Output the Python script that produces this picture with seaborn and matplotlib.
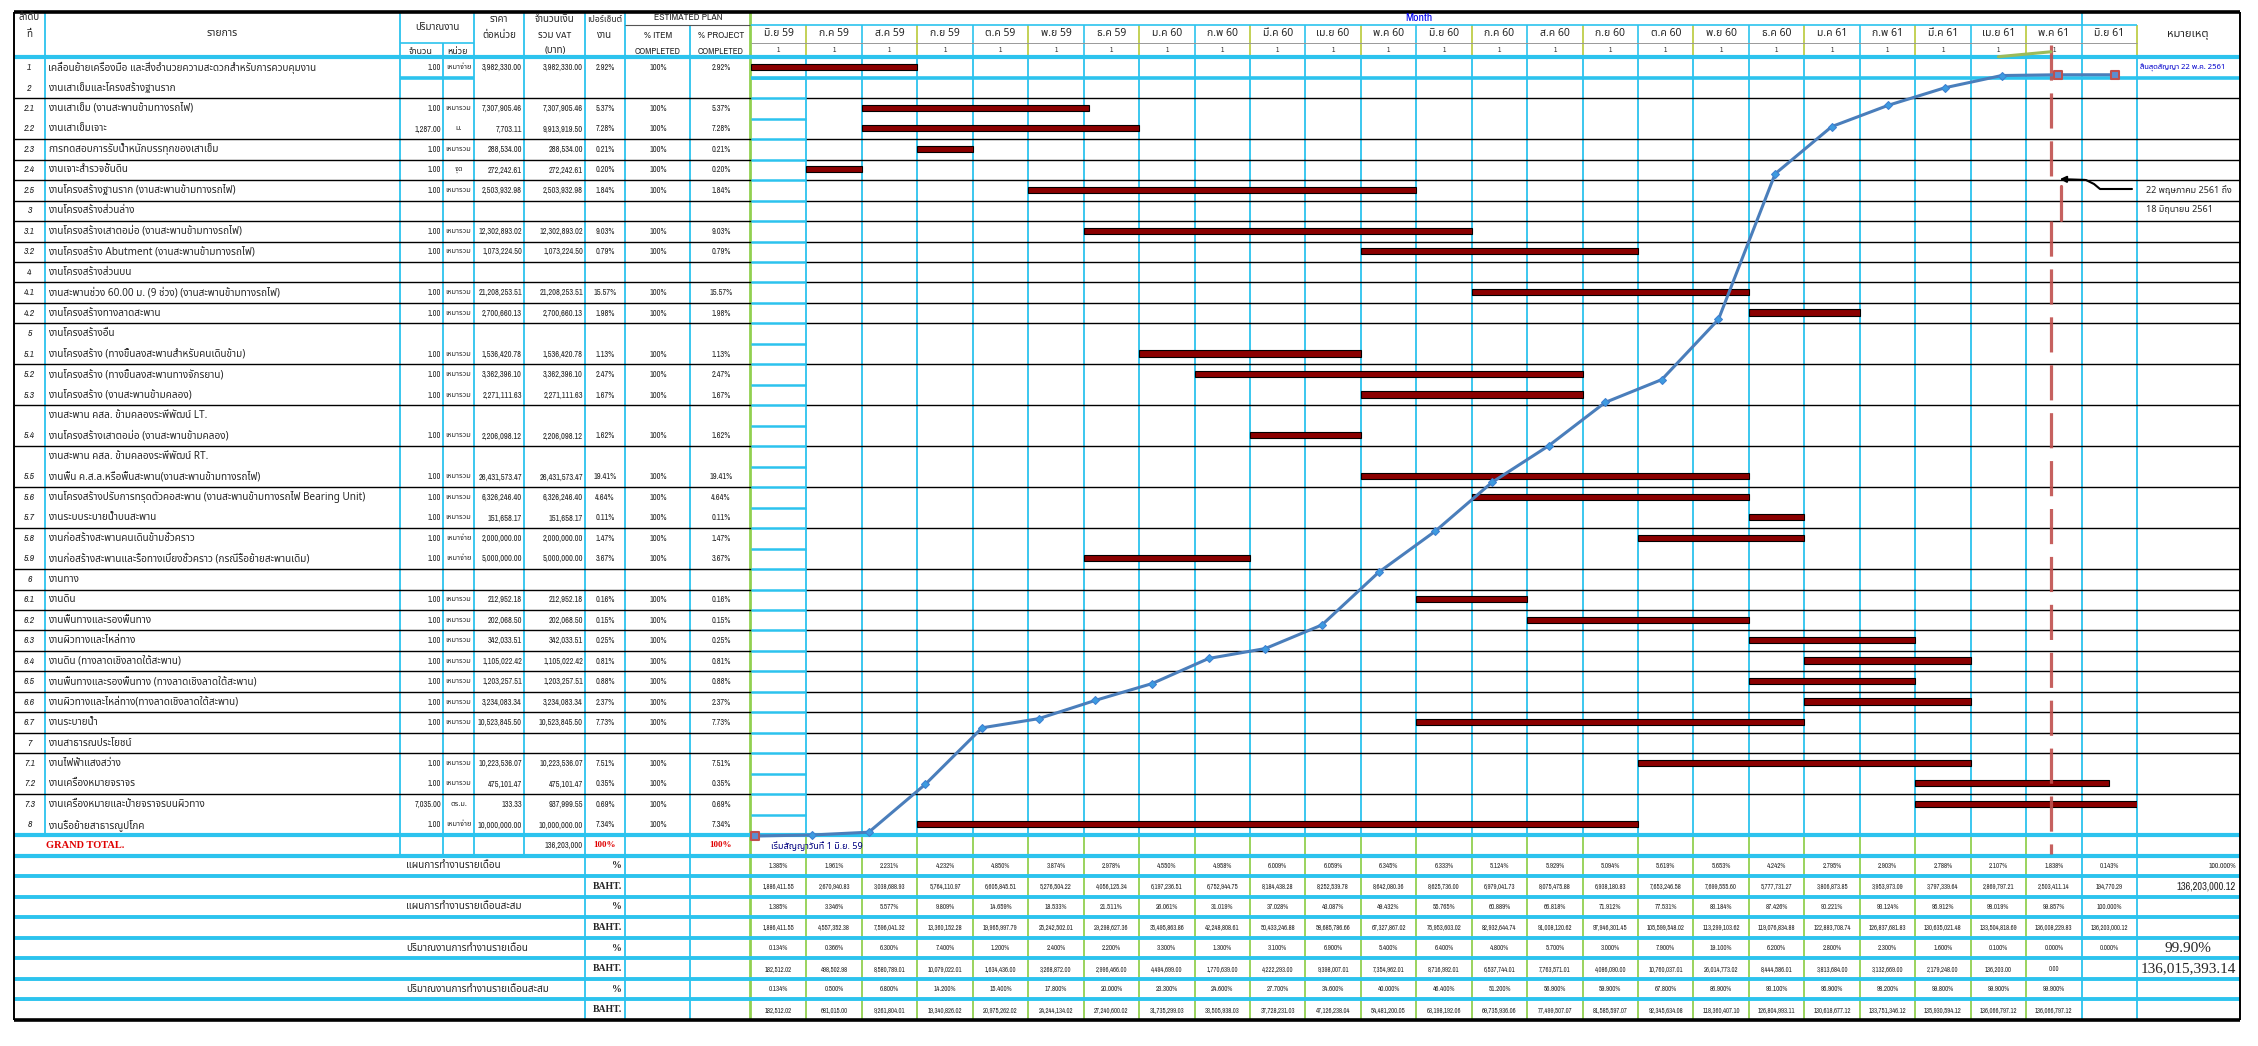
import matplotlib
matplotlib.use("Agg")
import matplotlib.pyplot as plt
import seaborn as sns
import numpy as np

# ---------------------------------------------------------------- data
MONTHS = ["มิ.ย 59", "ก.ค 59", "ส.ค 59", "ก.ย 59", "ต.ค 59", "พ.ย 59", "ธ.ค 59",
          "ม.ค 60", "ก.พ 60", "มี.ค 60", "เม.ย 60", "พ.ค 60", "มิ.ย 60", "ก.ค 60",
          "ส.ค 60", "ก.ย 60", "ต.ค 60", "พ.ย 60", "ธ.ค 60", "ม.ค 61", "ก.พ 61",
          "มี.ค 61", "เม.ย 61", "พ.ค 61", "มิ.ย 61"]

ROW_NO = ["1", "2", "2.1", "2.2", "2.3", "2.4", "2.5", "3", "3.1", "3.2", "4", "4.1", "4.2",
          "5", "5.1", "5.2", "5.3", "", "5.4", "", "5.5", "5.6", "5.7", "5.8", "5.9",
          "6", "6.1", "6.2", "6.3", "6.4", "6.5", "6.6", "6.7", "7", "7.1", "7.2", "7.3", "8"]

ROW_NAME = [
    "เคลื่อนย้ายเครื่องมือ และสิ่งอำนวยความสะดวกสำหรับการควบคุมงาน",
    "งานเสาเข็มและโครงสร้างฐานราก",
    "งานเสาเข็ม (งานสะพานข้ามทางรถไฟ)",
    "งานเสาเข็มเจาะ",
    "การทดสอบการรับน้ำหนักบรรทุกของเสาเข็ม",
    "งานเจาะสำรวจชั้นดิน",
    "งานโครงสร้างฐานราก (งานสะพานข้ามทางรถไฟ)",
    "งานโครงสร้างส่วนล่าง",
    "งานโครงสร้างเสาตอม่อ (งานสะพานข้ามทางรถไฟ)",
    "งานโครงสร้าง Abutment (งานสะพานข้ามทางรถไฟ)",
    "งานโครงสร้างส่วนบน",
    "งานสะพานช่วง 60.00 ม. (9 ช่วง) (งานสะพานข้ามทางรถไฟ)",
    "งานโครงสร้างทางลาดสะพาน",
    "งานโครงสร้างอื่น",
    "งานโครงสร้าง (ทางขึ้นลงสะพานสำหรับคนเดินข้าม)",
    "งานโครงสร้าง (ทางขึ้นลงสะพานทางจักรยาน)",
    "งานโครงสร้าง (งานสะพานข้ามคลอง)",
    "งานสะพาน คสล. ข้ามคลองระพีพัฒน์ LT.",
    "งานโครงสร้างเสาตอม่อ (งานสะพานข้ามคลอง)",
    "งานสะพาน คสล. ข้ามคลองระพีพัฒน์ RT.",
    "งานพื้น ค.ส.ล.หรือพื้นสะพาน(งานสะพานข้ามทางรถไฟ)",
    "งานโครงสร้างปรับการทรุดตัวคอสะพาน (งานสะพานข้ามทางรถไฟ Bearing Unit)",
    "งานระบบระบายน้ำบนสะพาน",
    "งานก่อสร้างสะพานคนเดินข้ามชั่วคราว",
    "งานก่อสร้างสะพานและรื้อทางเบี่ยงชั่วคราว (กรณีรื้อย้ายสะพานเดิม)",
    "งานทาง",
    "งานดิน",
    "งานพื้นทางและรองพื้นทาง",
    "งานผิวทางและไหล่ทาง",
    "งานดิน (ทางลาดเชิงลาดใต้สะพาน)",
    "งานพื้นทางและรองพื้นทาง (ทางลาดเชิงลาดใต้สะพาน)",
    "งานผิวทางและไหล่ทาง(ทางลาดเชิงลาดใต้สะพาน)",
    "งานระบายน้ำ",
    "งานสาธารณประโยชน์",
    "งานไฟฟ้าแสงสว่าง",
    "งานเครื่องหมายจราจร",
    "งานเครื่องหมายและป้ายจราจรบนผิวทาง",
    "งานรื้อย้ายสาธารณูปโภค",
]

QTY = ["1.00", "", "1.00", "1,287.00", "1.00", "1.00", "1.00", "", "1.00", "1.00", "", "1.00", "1.00",
       "", "1.00", "1.00", "1.00", "", "1.00", "", "1.00", "1.00", "1.00", "1.00", "1.00",
       "", "1.00", "1.00", "1.00", "1.00", "1.00", "1.00", "1.00", "", "1.00", "1.00", "7,035.00", "1.00"]

UNIT = ["เหมาจ่าย", "", "เหมารวม", "ม.", "เหมารวม", "จุด", "เหมารวม", "", "เหมารวม", "เหมารวม", "",
        "เหมารวม", "เหมารวม", "", "เหมารวม", "เหมารวม", "เหมารวม", "", "เหมารวม", "", "เหมารวม",
        "เหมารวม", "เหมารวม", "เหมาจ่าย", "เหมาจ่าย", "", "เหมารวม", "เหมารวม", "เหมารวม", "เหมารวม",
        "เหมารวม", "เหมารวม", "เหมารวม", "", "เหมารวม", "เหมารวม", "ตร.ม.", "เหมาจ่าย"]

PRICE = ["3,982,330.00", "", "7,307,905.46", "7,703.11", "288,534.00", "272,242.61", "2,503,932.98", "",
         "12,302,893.02", "1,073,224.50", "", "21,208,253.51", "2,700,660.13", "", "1,536,420.78",
         "3,362,396.10", "2,271,111.63", "", "2,206,098.12", "", "26,431,573.47", "6,326,246.40",
         "151,658.17", "2,000,000.00", "5,000,000.00", "", "212,952.18", "202,068.50", "342,033.51",
         "1,105,022.42", "1,203,257.51", "3,234,083.34", "10,523,845.50", "", "10,223,536.07",
         "475,101.47", "133.33", "10,000,000.00"]

TOTAL = ["3,982,330.00", "", "7,307,905.46", "9,913,919.50", "288,534.00", "272,242.61", "2,503,932.98", "",
         "12,302,893.02", "1,073,224.50", "", "21,208,253.51", "2,700,660.13", "", "1,536,420.78",
         "3,362,396.10", "2,271,111.63", "", "2,206,098.12", "", "26,431,573.47", "6,326,246.40",
         "151,658.17", "2,000,000.00", "5,000,000.00", "", "212,952.18", "202,068.50", "342,033.51",
         "1,105,022.42", "1,203,257.51", "3,234,083.34", "10,523,845.50", "", "10,223,536.07",
         "475,101.47", "937,999.55", "10,000,000.00"]

WEIGHT = ["2.92%", "", "5.37%", "7.28%", "0.21%", "0.20%", "1.84%", "", "9.03%", "0.79%", "", "15.57%",
          "1.98%", "", "1.13%", "2.47%", "1.67%", "", "1.62%", "", "19.41%", "4.64%", "0.11%", "1.47%",
          "3.67%", "", "0.16%", "0.15%", "0.25%", "0.81%", "0.88%", "2.37%", "7.73%", "", "7.51%",
          "0.35%", "0.69%", "7.34%"]

# Gantt bars: row index, start month, end month (month 0 = มิ.ย 59)
BAR_ROW = [0, 2, 3, 4, 5, 6, 8, 9, 11, 12, 14, 15, 16, 18, 20, 21, 22, 23, 24,
           26, 27, 28, 29, 30, 31, 32, 34, 35, 36, 37]
BAR_START = [0, 2, 2, 3, 1, 5, 6, 11, 13, 18, 7, 8, 11, 9, 11, 13, 18, 16, 6,
             12, 14, 18, 19, 18, 19, 12, 16, 21, 21, 3]
BAR_END = [3, 6.1, 7, 4, 2, 12, 13, 16, 18, 20, 11, 15, 15, 11, 18, 18, 19, 19, 9,
           14, 18, 21, 22, 21, 22, 19, 22, 24.5, 25.2, 16]

GRAND_TOTAL = 136203000.12
ACTUAL_TOTAL_TEXT = "136,015,393.14"

PLAN_MONTHLY = [1.385, 1.961, 2.231, 4.232, 4.850, 3.874, 2.978, 4.550, 4.958, 6.009, 6.059, 6.345,
                6.333, 5.124, 5.929, 5.094, 5.619, 5.653, 4.242, 2.795, 2.903, 2.788, 2.107, 1.838, 0.143]
PLAN_CUM = [1.385, 3.346, 5.577, 9.809, 14.659, 18.533, 21.511, 26.061, 31.019, 37.028, 43.087, 49.432,
            55.765, 60.889, 66.818, 71.912, 77.531, 83.184, 87.426, 90.221, 93.124, 95.912, 98.019,
            99.857, 100.000]
ACT_MONTHLY = [0.134, 0.366, 6.300, 7.400, 1.200, 2.400, 2.200, 3.300, 1.300, 3.100, 6.900, 5.400,
               6.400, 4.800, 5.700, 3.000, 7.900, 19.100, 6.200, 2.800, 2.300, 1.600, 0.100, 0.000, 0.000]
ACT_CUM = [0.134, 0.500, 6.800, 14.200, 15.400, 17.800, 20.000, 23.300, 24.600, 27.700, 34.600, 40.000,
           46.400, 51.200, 56.900, 59.900, 67.800, 86.900, 93.100, 95.900, 98.200, 99.800, 99.900, 99.900]

SUMMARY_LABELS = ["แผนการทำงานรายเดือน", "แผนการทำงานรายเดือนสะสม",
                  "ปริมาณงานการทำงานรายเดือน", "ปริมาณงานการทำงานรายเดือนสะสม"]

# ---------------------------------------------------------------- style
sns.set_theme(style="white")
THAI = ["Noto Sans Thai", "Archivo Narrow", "DejaVu Sans"]
NARROW = ["Archivo Narrow", "Noto Sans Thai", "DejaVu Sans"]
SERIF = ["Liberation Serif", "DejaVu Serif"]
plt.rcParams["font.family"] = THAI

CYAN = "#2cc3ee"
GREEN = "#92d050"
YGREEN = "#b9c93a"
BARC = "#8b0000"

W, H = 2258, 1046
TOP, LEFT, RIGHT, BOT = 12, 14, 2240, 1020
R0, RP, NR = 57.3, 20.47, len(ROW_NO)
RB = R0 + NR * RP           # bottom of item rows
GT_B = 855.5                # bottom of grand-total row
SP = (BOT - GT_B) / 8
G0, MW, NM = 751.0, 55.44, len(MONTHS)
GEND = G0 + NM * MW         # 2137

fig = plt.figure(figsize=(W / 100, H / 100), dpi=100)
ax0 = fig.add_axes([0, 0, 1, 1])
ax0.set_xlim(0, W)
ax0.set_ylim(H, 0)
ax0.axis("off")


def hl(y, x0, x1, c="black", lw=1.0, z=2):
    ax0.plot([x0, x1], [y, y], color=c, lw=lw, solid_capstyle="butt", zorder=z)


def vl(x, y0, y1, c=CYAN, lw=1.3, z=2):
    ax0.plot([x, x], [y0, y1], color=c, lw=lw, solid_capstyle="butt", zorder=z)


def yc(i):
    return R0 + (i + 0.5) * RP


def mx(j):
    return G0 + (j + 0.5) * MW


# ---------------------------------------------------------------- grid
for x in [45, 400, 474, 524, 585, 625]:
    vl(x, TOP, RB)
vl(443, 43, RB)
vl(690, 25, RB)
for x in [400, 443, 474, 524]:
    vl(x, RB, GT_B)
for x in [585, 625, 690]:
    vl(x, RB, BOT)
vl(750, TOP, BOT, c=GREEN, lw=2.0)

for j in range(1, NM + 1):
    x = G0 + j * MW
    vl(x, 25, R0, c=YGREEN if j % 2 else CYAN, lw=1.2)
    vl(x, R0, RB, c=CYAN, lw=1.3)
    vl(x, RB, BOT, c=GREEN if j < NM - 1 else CYAN, lw=1.3)
vl(G0 + (NM - 1) * MW, TOP, 25, c=CYAN, lw=1.3)

hl(25, 625, 750, c="#555555", lw=0.8)
hl(25, G0, GEND, c=CYAN, lw=1.2)
hl(43, 400, 474, c=CYAN, lw=1.2)
hl(43, G0, GEND, c="#999999", lw=0.7)
hl(R0, LEFT, RIGHT, c=CYAN, lw=3.0, z=3)

SKIP = {1, 3, 14, 16, 18, 20, 22, 24, 35, 37}
for k in range(1, NR):
    y = R0 + k * RP
    if k == 1:
        hl(y, 400, 474, c=CYAN, lw=2.6)
        hl(y, G0, RIGHT, c=CYAN, lw=2.6)
    elif k not in SKIP:
        hl(y, LEFT, G0, lw=1.0)
        hl(y, G0 + MW, RIGHT, lw=1.0)
    hl(y, G0, G0 + MW, c=CYAN, lw=1.8)

hl(RB, LEFT, RIGHT, c=CYAN, lw=3.0, z=3)
hl(GT_B, LEFT, RIGHT, c=CYAN, lw=3.0, z=3)
for i in range(1, 8):
    hl(GT_B + i * SP, LEFT, RIGHT, c=CYAN, lw=2.8, z=3)

hl(TOP, LEFT, RIGHT, lw=2.6, z=4)
hl(BOT, LEFT, RIGHT, lw=2.6, z=4)
vl(LEFT, TOP, BOT, c="black", lw=1.4, z=4)
vl(RIGHT, TOP, BOT, c="black", lw=1.4, z=4)


# ---------------------------------------------------------------- header text
def t(x, y, s, fs=7, ha="center", fam=THAI, **kw):
    ax0.text(x, y, s, fontsize=fs, ha=ha, va="center", family=fam, zorder=6, **kw)


t(29.5, 18, "ลำดับ")
t(29.5, 34, "ที่")
t(222, 34, "รายการ", fs=7.5)
t(437, 28, "ปริมาณงาน")
t(421, 51, "จำนวน", fs=6.5)
t(458, 51, "หน่วย", fs=6.5)
t(499, 19, "ราคา")
t(499, 35, "ต่อหน่วย")
t(555, 19, "จำนวนเงิน")
t(555, 35, "รวม VAT", fam=NARROW)
t(555, 51, "(บาท)")
t(605, 19, "เปอร์เซ็นต์", fs=6.2)
t(605, 35, "งาน")
t(688, 18, "ESTIMATED PLAN", fam=NARROW)
t(658, 35, "% ITEM", fam=NARROW)
t(658, 51, "COMPLETED", fam=NARROW, fs=6.5)
t(721, 35, "% PROJECT", fam=NARROW)
t(721, 51, "COMPLETED", fam=NARROW, fs=6.5)
t(1419, 18, "Month", fam=NARROW, fs=8.5, color="#0000ee", fontweight="bold")
for j, m in enumerate(MONTHS):
    t(mx(j), 34, m, fs=7.5, style="italic", fontweight="bold")
    if j < NM - 1:
        t(mx(j), 50, "1", fs=5, fam=NARROW)
t(2188, 34, "หมายเหตุ", fs=8, fontweight="bold")

# ---------------------------------------------------------------- item rows text
for i in range(NR):
    y = yc(i)
    if ROW_NO[i]:
        t(29.5, y, ROW_NO[i], fs=7, fam=NARROW, style="italic", fontweight="bold")
    t(48, y, ROW_NAME[i], fs=7.2, ha="left")
    if QTY[i]:
        t(441, y, QTY[i], fs=6, ha="right", fam=NARROW)
        t(458.5, y, UNIT[i], fs=5.3, fam=THAI)
        t(522, y, PRICE[i], fs=6, ha="right", fam=NARROW)
        t(583, y, TOTAL[i], fs=6, ha="right", fam=NARROW)
        t(605, y, WEIGHT[i], fs=6, fam=NARROW)
        t(658, y, "100%", fs=6, fam=NARROW)
        t(721, y, WEIGHT[i], fs=6, fam=NARROW)

gy = (RB + GT_B) / 2
t(46, gy, "GRAND TOTAL.", fs=7.5, ha="left", fam=SERIF, color="#e00000", fontweight="bold")
t(583, gy, f"{GRAND_TOTAL:,.0f}", fs=6, ha="right", fam=NARROW)
t(605, gy, "100%", fs=6.5, fam=SERIF, color="#e00000", fontweight="bold")
t(721, gy, "100%", fs=6.5, fam=SERIF, color="#e00000", fontweight="bold")

# ---------------------------------------------------------------- summary rows
for r in range(8):
    y = GT_B + (r + 0.5) * SP
    if r % 2 == 0:
        t(406, y, SUMMARY_LABELS[r // 2], fs=7.2, ha="left")
        t(622, y, "%", fs=7, ha="right", fam=SERIF, fontweight="bold")
    else:
        t(622, y, "BAHT.", fs=7, ha="right", fam=SERIF, fontweight="bold")

rows_pct = [PLAN_MONTHLY, PLAN_CUM, ACT_MONTHLY, ACT_CUM]
for r, vals in enumerate(rows_pct):
    ypct = GT_B + (2 * r + 0.5) * SP
    ybaht = GT_B + (2 * r + 1.5) * SP
    for j, v in enumerate(vals):
        t(mx(j), ypct, f"{v:.3f}%", fs=5, fam=NARROW)
        if r == 2 and j == NM - 1:
            continue
        t(mx(j), ybaht, f"{v * GRAND_TOTAL / 100:,.2f}", fs=4.8, fam=NARROW)

t(2236, GT_B + 0.5 * SP, "100.000%", fs=5.5, ha="right", fam=NARROW)
t(2236, GT_B + 1.5 * SP, f"{GRAND_TOTAL:,.2f}", fs=7.5, ha="right", fam=NARROW)
t(2188, GT_B + 4.5 * SP, f"{ACT_CUM[-1]:.2f}%", fs=11, fam=SERIF)
t(2188, GT_B + 5.5 * SP, ACTUAL_TOTAL_TEXT, fs=11, fam=SERIF)

# ---------------------------------------------------------------- gantt bars
axg = fig.add_axes([G0 / W, 1 - RB / H, NM * MW / W, (RB - R0) / H])
axg.set_xlim(0, NM)
axg.set_ylim(NR, 0)
axg.axis("off")
axg.patch.set_alpha(0)
axg.barh([r + 0.47 for r in BAR_ROW], [e - s for s, e in zip(BAR_START, BAR_END)],
         left=BAR_START, height=0.3, color=BARC, edgecolor="black", linewidth=0.8, zorder=3)

RED_X = 23.45
axg.plot([RED_X, RED_X], [-0.6, 6.2], color="#c0504d", lw=2.3, ls=(0, (11, 4)),
         clip_on=False, zorder=4, alpha=0.9)
axg.plot([RED_X, RED_X], [8.0, 38.9], color="#c0504d", lw=2.3, ls=(0, (11, 4)),
         clip_on=False, zorder=4, alpha=0.9)
axg.plot([RED_X + 0.18, RED_X + 0.18], [6.3, 7.95], color="#c0504d", lw=2.3,
         clip_on=False, zorder=4, alpha=0.9)
axg.plot([22.5, 23.45], [-0.03, -0.27], color="#9bbb59", lw=2.2, clip_on=False, zorder=4)

# ---------------------------------------------------------------- S-curve
S_X0, S_X1, S_Y0, S_Y1 = 755.5, 2115.0, 836.0, 74.0
axs = fig.add_axes([S_X0 / W, 1 - S_Y0 / H, (S_X1 - S_X0) / W, (S_Y0 - S_Y1) / H])
curve = [0.0] + ACT_CUM
xs = np.arange(len(curve))
sns.lineplot(x=xs, y=curve, ax=axs, color="#4a7ebb", lw=2.2, marker="D", markersize=4.5,
             markerfacecolor="#3d9be0", markeredgecolor="#3d7fd0", zorder=5, clip_on=False)
sq = [0, len(curve) - 2, len(curve) - 1]
sns.scatterplot(x=xs[sq], y=[curve[i] for i in sq], ax=axs, marker="s", s=38,
                color="#5b8fd0", edgecolor="#c0504d", linewidth=1.5, zorder=6, clip_on=False)
axs.set_xlim(0, len(curve) - 1)
axs.set_ylim(0, 100)
axs.axis("off")
axs.patch.set_alpha(0)

# ---------------------------------------------------------------- annotations
t(2140, yc(0), "สิ้นสุดสัญญา 22 พ.ค. 2561", fs=5.5, ha="left", color="#0000cc")
t(771, 846, "เริ่มสัญญาวันที่ 1 มิ.ย. 59", fs=6.5, ha="left", color="#000080")
t(2146, 190, "22 พฤษภาคม 2561 ถึง", fs=6.5, ha="left")
t(2146, 210, "18 มิถุนายน 2561", fs=6.5, ha="left")
ax0.plot([2132, 2100, 2094, 2086], [189, 189, 184, 180], color="black", lw=1.5, zorder=7)
ax0.annotate("", xy=(2057, 179), xytext=(2088, 180),
             arrowprops=dict(arrowstyle="-|>", color="black", lw=1.5, mutation_scale=9),
             zorder=7)

fig.savefig("out.png", dpi=100)
